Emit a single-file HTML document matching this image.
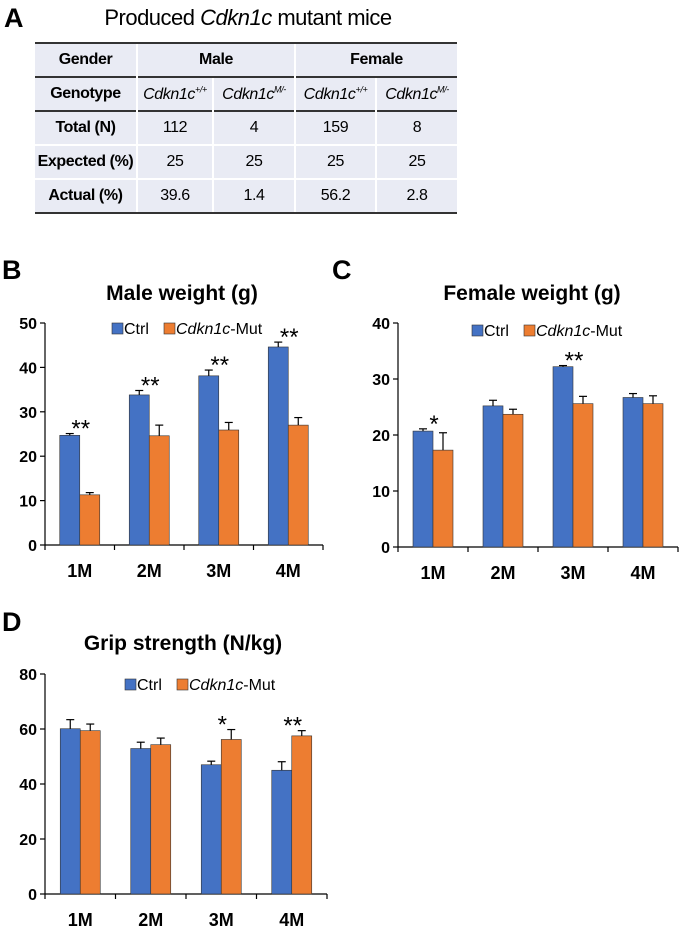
<!DOCTYPE html>
<html><head><meta charset="utf-8"><style>
body{margin:0;width:680px;height:928px;background:#fff;font-family:"Liberation Sans",Arial,sans-serif;position:relative;overflow:hidden}
.lab{position:absolute;font-weight:bold;font-size:27px;color:#000}
#tbl{position:absolute;left:35px;top:42px;width:422px;table-layout:fixed;border-collapse:collapse;background:#e9ebf4;font-size:16px;letter-spacing:-0.4px}
#tbl td{height:32px;padding:0;text-align:center;white-space:nowrap;border-left:2px solid #fff;border-top:2px solid #fff}
#tbl td:first-child{border-left:none;font-weight:bold}
#tbl tr.d td{border-top:2px solid #333}
#tbl tr.last td{border-bottom:2px solid #333}
i{font-style:italic}
</style></head><body>
<div class="lab" style="left:4px;top:3px">A</div>
<div style="position:absolute;left:0;width:496px;text-align:center;top:5px;font-size:22px;letter-spacing:-0.5px">Produced <i>Cdkn1c</i> mutant mice</div>
<table id="tbl">
<colgroup><col style="width:102px"><col style="width:76px"><col style="width:82px"><col style="width:81px"><col style="width:81px"></colgroup>
<tr class="d"><td>Gender</td><td colspan="2" style="font-weight:bold">Male</td><td colspan="2" style="font-weight:bold">Female</td></tr>
<tr class="d"><td>Genotype</td><td><i>Cdkn1c<sup style="font-size:9px">+/+</sup></i></td><td><i>Cdkn1c<sup style="font-size:9px">M/-</sup></i></td><td><i>Cdkn1c<sup style="font-size:9px">+/+</sup></i></td><td><i>Cdkn1c<sup style="font-size:9px">M/-</sup></i></td></tr>
<tr class="d"><td>Total (N)</td><td>112</td><td>4</td><td>159</td><td>8</td></tr>
<tr><td>Expected (%)</td><td>25</td><td>25</td><td>25</td><td>25</td></tr>
<tr class="last"><td>Actual (%)</td><td>39.6</td><td>1.4</td><td>56.2</td><td>2.8</td></tr>
</table>
<div class="lab" style="left:2px;top:255px">B</div>
<div class="lab" style="left:332px;top:255px">C</div>
<div class="lab" style="left:2px;top:607px">D</div>
<svg id="svg" width="680" height="928" style="position:absolute;left:0;top:0"></svg>
<script>
const categories=["1M","2M","3M","4M"];
const maleCtrl=[24.7,33.8,38.1,44.6];
const maleCtrlErr=[0.4,1.0,1.3,1.1];
const maleMut=[11.3,24.6,25.9,27.0];
const maleMutErr=[0.5,2.4,1.7,1.7];
const maleStars=["**","**","**","**"];
const maleTicks=[0,10,20,30,40,50];
const femCtrl=[20.7,25.2,32.2,26.7];
const femCtrlErr=[0.4,1.0,0.2,0.7];
const femMut=[17.3,23.7,25.6,25.6];
const femMutErr=[3.1,0.9,1.3,1.4];
const femStars=["*","","**",""];
const femTicks=[0,10,20,30,40];
const gripCtrl=[60.1,52.9,47.0,45.0];
const gripCtrlErr=[3.3,2.3,1.3,3.1];
const gripMut=[59.4,54.3,56.2,57.5];
const gripMutErr=[2.4,2.4,3.6,1.9];
const gripStars=["","","*","**"];
const gripTicks=[0,20,40,60,80];
const NS="http://www.w3.org/2000/svg";
const svg=document.getElementById('svg');
function mk(t,a,txt){const e=document.createElementNS(NS,t);for(const k in a)e.setAttribute(k,a[k]);if(txt!==undefined)e.textContent=txt;svg.appendChild(e);return e;}
function chart(o){
  const ymax=o.ticks[o.ticks.length-1];
  const y=v=>o.y0-(v/ymax)*(o.y0-o.yTop);
  const cw=(o.xEnd-o.x0)/categories.length;
  const xc=i=>o.x0+cw*(i+0.5);
  let e=mk('text',{x:o.titleX,y:o.titleY,'text-anchor':'middle','font-size':21,'font-weight':'bold'},o.title);
  
  e=mk('line',{x1:o.x0,y1:o.yTop,x2:o.x0,y2:o.y0,stroke:'#000','stroke-width':1.2});
  
  e=mk('line',{x1:o.x0,y1:o.y0,x2:o.xEnd,y2:o.y0,stroke:'#000','stroke-width':1.2});
  
  o.ticks.forEach(t=>{
    mk('line',{x1:o.x0-5,y1:y(t),x2:o.x0,y2:y(t),stroke:'#000','stroke-width':1.2});
    e=mk('text',{x:o.x0-8,y:y(t)+6,'text-anchor':'end','font-size':16,'font-weight':'bold'},t);
    
  });
  for(let i=0;i<=categories.length;i++)mk('line',{x1:o.x0+cw*i,y1:o.y0,x2:o.x0+cw*i,y2:o.y0+5,stroke:'#000','stroke-width':1.2});
  const bw=20;
  categories.forEach((c,i)=>{
    e=mk('text',{x:xc(i),y:o.y0+32,'text-anchor':'middle','font-size':18,'font-weight':'bold'},c);
    
    [[o.ctrl,o.ctrlErr,'#4472c4',-bw],[o.mut,o.mutErr,'#ed7d31',0]].forEach(([v,er,col,off],s)=>{
      const bx=xc(i)+off, top=y(v[i]), et=y(v[i]+er[i]);
      e=mk('rect',{x:bx,y:top,width:bw,height:o.y0-top,fill:col,stroke:'#333','stroke-width':0.6});
      
      mk('line',{x1:bx+bw/2,y1:top,x2:bx+bw/2,y2:et,stroke:'#000','stroke-width':1.2});
      mk('line',{x1:bx+bw/2-4,y1:et,x2:bx+bw/2+4,y2:et,stroke:'#000','stroke-width':1.2});
    });
    if(o.stars[i]){
      const mx=Math.max(o.ctrl[i]+o.ctrlErr[i],o.mut[i]+o.mutErr[i]);
      e=mk('text',{x:xc(i)+1,y:y(mx)+3,'text-anchor':'middle','font-size':24},o.stars[i]);
      
    }
  });
  const lx=o.legX, ly=o.legY;
  mk('rect',{x:lx,y:ly-11,width:11,height:11,fill:'#4472c4',stroke:'#333','stroke-width':0.6});
  e=mk('text',{x:lx+12,y:ly,'font-size':16},'Ctrl');
  
  mk('rect',{x:lx+52,y:ly-11,width:11,height:11,fill:'#ed7d31',stroke:'#333','stroke-width':0.6});
  e=mk('text',{x:lx+64,y:ly,'font-size':16});
  e.innerHTML='<tspan font-style="italic">Cdkn1c</tspan>-Mut';
  
}
chart({id:'male',title:'Male weight (g)',titleX:182,titleY:300,x0:45,xEnd:323,y0:545,yTop:323,ticks:maleTicks,ctrl:maleCtrl,ctrlErr:maleCtrlErr,mut:maleMut,mutErr:maleMutErr,stars:maleStars,legX:112,legY:334});
chart({id:'female',title:'Female weight (g)',titleX:532,titleY:300,x0:398,xEnd:678,y0:547,yTop:323,ticks:femTicks,ctrl:femCtrl,ctrlErr:femCtrlErr,mut:femMut,mutErr:femMutErr,stars:femStars,legX:472,legY:336});
chart({id:'grip',title:'Grip strength (N/kg)',titleX:183,titleY:650,x0:45,xEnd:327,y0:894,yTop:674,ticks:gripTicks,ctrl:gripCtrl,ctrlErr:gripCtrlErr,mut:gripMut,mutErr:gripMutErr,stars:gripStars,legX:125,legY:690});
</script>
</body></html>
